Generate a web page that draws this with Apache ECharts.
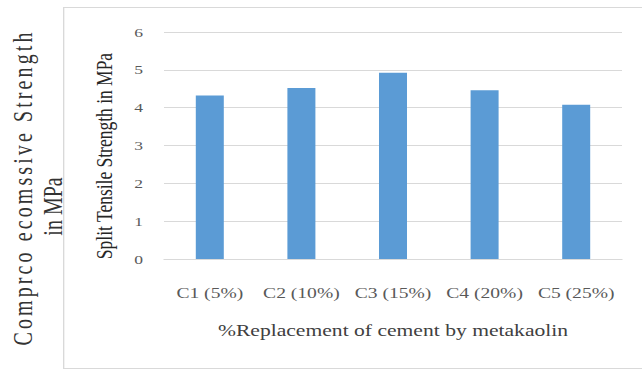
<!DOCTYPE html>
<html>
<head>
<meta charset="utf-8">
<style>
  html, body { margin: 0; padding: 0; background: #ffffff; overflow: hidden; }
  #chart { height: 371px; transform-origin: 0 0; }
</style>
<script src="https://cdn.jsdelivr.net/npm/echarts@6/dist/echarts.min.js"></script>
</head>
<body>
<div id="chart"></div>
<script>
// Mix designs and their split tensile strength (MPa)
const categories = ['C1 (5%)', 'C2 (10%)', 'C3 (15%)', 'C4 (20%)', 'C5 (25%)'];
const tensileStrength = [4.32, 4.52, 4.92, 4.46, 4.08];
const yTicks = [0, 1, 2, 3, 4, 5, 6];

const pageTitleLines = ['Comprco ecomssive Strength', 'in MPa'];

const serif = '"Liberation Serif", "DejaVu Serif", serif';

// The whole figure is laid out narrow and widened horizontally, like a
// picture stretched to fit the page column.
const PAGE_W = 642;
const STRETCH = 1.35;
const W = PAGE_W / STRETCH;
const px = v => v / STRETCH;          // page x-distance -> chart units

const el = document.getElementById('chart');
el.style.width = W + 'px';
el.style.transform = 'scaleX(' + STRETCH + ')';

const chart = echarts.init(el, null, { renderer: 'svg', width: W, height: 371 });

chart.setOption({
  animation: false,
  backgroundColor: '#ffffff',
  grid: { left: px(164), right: px(20), top: 32, bottom: 112 },
  xAxis: {
    type: 'category',
    data: categories,
    axisLine: { show: true, lineStyle: { color: '#d9d9d9', width: 1 } },
    axisTick: { show: false },
    axisLabel: {
      interval: 0,
      margin: 26.5,
      color: '#595959',
      fontFamily: serif,
      fontSize: 14.5
    },
    name: '%Replacement of cement by metakaolin',
    nameLocation: 'middle',
    nameGap: 64,
    nameTextStyle: { color: '#404040', fontFamily: serif, fontSize: 16 }
  },
  yAxis: {
    type: 'value',
    min: yTicks[0],
    max: yTicks[yTicks.length - 1],
    interval: 1,
    axisLine: { show: false },
    axisTick: { show: false },
    splitLine: { lineStyle: { color: '#d9d9d9', width: 1 } },
    axisLabel: {
      margin: px(21),
      color: '#595959',
      fontFamily: serif,
      fontSize: 13
    }
  },
  series: [{
    type: 'bar',
    data: tensileStrength,
    barWidth: px(28),
    itemStyle: { color: '#5b9bd5' }
  }],
  graphic: [
    {
      // outer chart-area frame
      type: 'rect',
      shape: { x: px(63) + 0.5, y: 7.5, width: W, height: 361 },
      style: { fill: 'none', stroke: '#d9d9d9', lineWidth: 1 },
      z: 0
    },
    {
      // value-axis title inside the frame
      type: 'text',
      x: px(103), y: 156,
      rotation: Math.PI / 2,
      style: {
        text: 'Split Tensile Strength in MPa',
        fontFamily: serif,
        fontSize: 17.5,
        fill: '#262626',
        align: 'center',
        verticalAlign: 'middle'
      }
    },
    {
      // page-level axis title, first line (spread out to fill the height)
      type: 'text',
      x: px(23), y: 187.5,
      rotation: Math.PI / 2,
      style: {
        text: pageTitleLines[0],
        fontFamily: serif,
        fontSize: 20,
        fill: '#333333',
        align: 'center',
        verticalAlign: 'middle'
      }
    },
    {
      // page-level axis title, second line
      type: 'text',
      x: px(52.5), y: 206.5,
      rotation: Math.PI / 2,
      style: {
        text: pageTitleLines[1],
        fontFamily: serif,
        fontSize: 20,
        fill: '#333333',
        align: 'center',
        verticalAlign: 'middle'
      }
    }
  ]
});

// Distributed spacing on the first title line
el.querySelectorAll('text').forEach(t => {
  if (t.textContent === pageTitleLines[0]) {
    t.setAttribute('letter-spacing', '3.1');
  }
});
</script>
</body>
</html>
